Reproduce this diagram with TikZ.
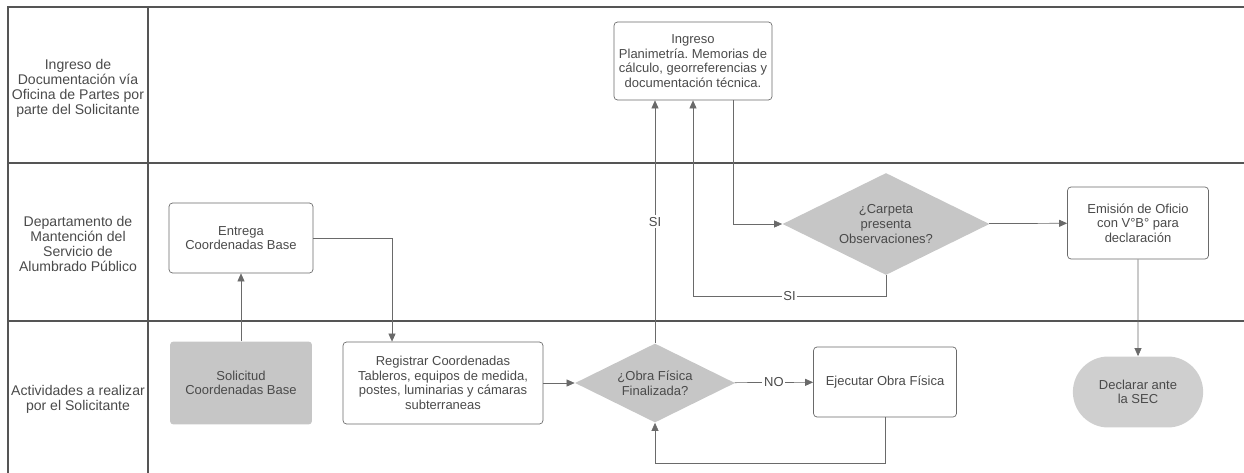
\documentclass[tikz,border=0pt]{standalone}
\usepackage{fontspec}
\setmainfont{Liberation Sans}
\usetikzlibrary{arrows.meta, shapes.geometric, shapes.misc}
\frenchspacing

\definecolor{lanegray}{HTML}{555555}
\definecolor{linegray}{HTML}{6a6a6a}
\definecolor{textgray}{HTML}{4a4a4a}
\definecolor{boxgray}{HTML}{c6c6c6}
\definecolor{endgray}{HTML}{cfcfcf}

\tikzset{
	lanetext/.style = {align=center, text=textgray, font=\fontsize{8}{8.5}\selectfont},
	stepbox/.style  = {draw=linegray, rounded corners=2pt, align=center, text=textgray,
		font=\fontsize{7.4}{8.3}\selectfont, inner sep=0pt},
	decision/.style = {diamond, fill=boxgray, shape aspect=2, align=center, text=textgray,
		font=\fontsize{7.4}{8.3}\selectfont, inner sep=0pt},
	arr/.style      = {draw=linegray, -{Triangle[length=4.6pt,width=4pt]}},
	lbl/.style      = {fill=white, text=textgray, font=\fontsize{7.4}{8.3}\selectfont, inner sep=1pt}
}

\begin{document}
\begin{tikzpicture}[x=0.02cm, y=-0.02cm]
	\useasboundingbox (0,0) rectangle (1244,473);
	% carriles
	\draw[lanegray, line width=0.7pt] (1244,7) -- (8,7) -- (8,473);
	\draw[lanegray, line width=0.7pt] (148,7) -- (148,473);
	\draw[lanegray, line width=0.7pt] (8,163) -- (1244,163);
	\draw[lanegray, line width=0.7pt] (8,321) -- (1244,321);
	\node[lanetext] (lane1) at (78,88) {Ingreso de\\Documentación vía\\Oficina de Partes por\\parte del Solicitante};
	\node[lanetext] (lane2) at (78,244) {Departamento de\\Mantención del\\Servicio de\\Alumbrado Público};
	\node[lanetext] (lane3) at (78,399) {Actividades a realizar\\por el Solicitante};
	% pasos
	\node[stepbox, fill=boxgray, draw=none, minimum width=2.84cm, minimum height=1.66cm] (sol) at (241,383) {Solicitud\\Coordenadas Base};
	\node[stepbox, minimum width=2.88cm, minimum height=1.4cm] (ent) at (241,238) {Entrega\\Coordenadas Base};
	\node[stepbox, minimum width=4cm, minimum height=1.64cm] (reg) at (443,383) {Registrar Coordenadas\\Tableros, equipos de medida,\\postes, luminarias y cámaras\\subterraneas};
	\node[decision, minimum width=3.2cm, minimum height=1.58cm] (obra) at (655,383) {¿Obra Física\\Finalizada?};
	\node[stepbox, minimum width=2.86cm, minimum height=1.4cm] (eje) at (885,382) {Ejecutar Obra Física};
	\node[stepbox, minimum width=3.16cm, minimum height=1.56cm] (ing) at (693,61) {Ingreso\\Planimetría. Memorias de\\cálculo, georreferencias y\\documentación técnica.};
	\node[decision, minimum width=4.14cm, minimum height=2.04cm] (carp) at (886,224) {¿Carpeta\\presenta\\Observaciones?};
	\node[stepbox, minimum width=2.82cm, minimum height=1.44cm] (emi) at (1138,223) {Emisión de Oficio\\con V°B° para\\declaración};
	\node[rounded rectangle, fill=endgray, align=center, text=textgray,
		font=\fontsize{7.4}{8.3}\selectfont, minimum width=2.84cm, minimum height=1.42cm] (dec) at (1138,392) {Declarar ante\\la SEC};
	% conectores
	\draw[arr] (sol) -- (ent);
	\draw[arr] (ent.east) -| ([xshift=-1.02cm]reg.north);
	\draw[arr] (reg) -- (obra);
	\draw[arr] (obra.north) -- node[lbl] {SI} (obra.north |- ing.south);
	\draw[arr] ([xshift=0.8cm]ing.south) |- (carp.west);
	\draw[arr] (carp.south) -- ++(0,21) -| node[lbl, pos=0.25] {SI} (ing.south);
	\draw[arr] (carp) -- (emi);
	\draw[arr] (emi) -- (dec);
	\draw[arr] (obra) -- node[lbl] {NO} (eje);
	\draw[arr] (eje.south) -- ++(0,46) -| (obra.south);
\end{tikzpicture}
\end{document}
